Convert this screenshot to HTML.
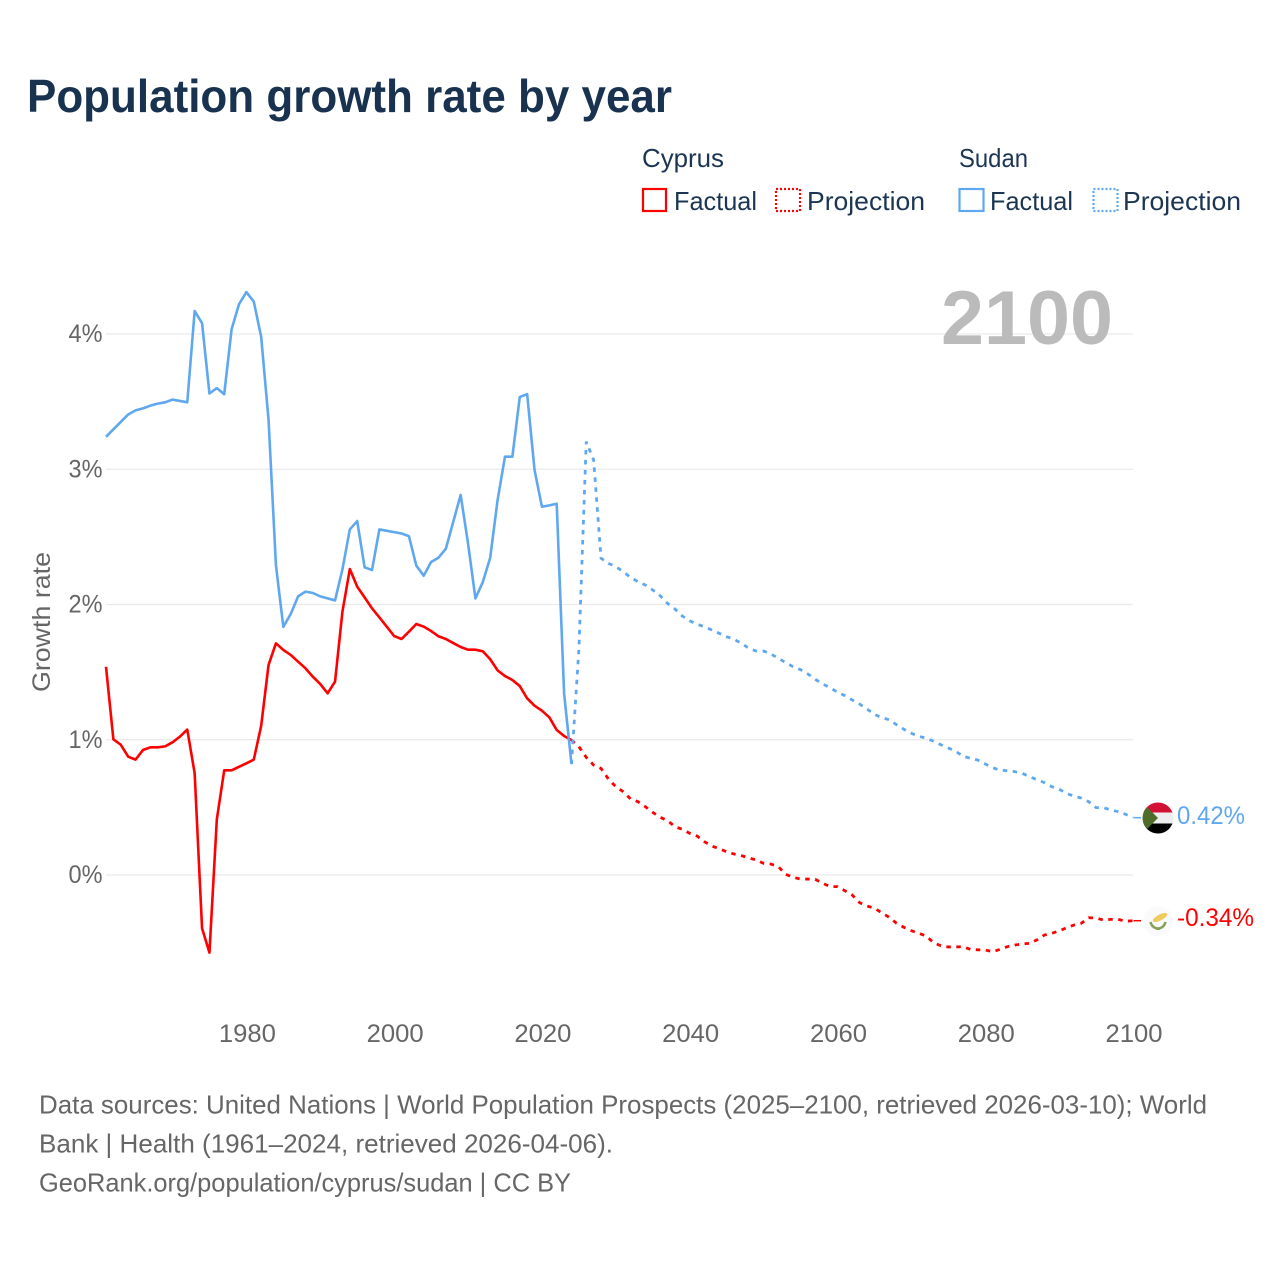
<!DOCTYPE html>
<html lang="en">
<head>
<meta charset="utf-8">
<title>Population growth rate by year</title>
<style>
html,body{margin:0;padding:0;background:#fff;}
svg{display:block;font-family:"Liberation Sans",Arial,sans-serif;}
</style>
</head>
<body>
<svg id="chart" xmlns="http://www.w3.org/2000/svg" width="1280" height="1280" viewBox="0 0 1280 1280">
  <rect width="1280" height="1280" fill="#ffffff"/>
  <text x="27" y="112" font-size="46" font-weight="700" fill="#18324f" textLength="645" lengthAdjust="spacingAndGlyphs">Population growth rate by year</text>

  <g font-size="26" fill="#1c3553">
    <text x="642" y="167" textLength="82" lengthAdjust="spacingAndGlyphs">Cyprus</text>
    <rect x="643" y="189" width="23" height="22" fill="none" stroke="#ff0000" stroke-width="2.2"/>
    <text x="674" y="210" textLength="83" lengthAdjust="spacingAndGlyphs">Factual</text>
    <rect x="776" y="189" width="24" height="22" fill="none" stroke="#ff0000" stroke-width="2.2" stroke-dasharray="2 2"/>
    <text x="807" y="210" textLength="118" lengthAdjust="spacingAndGlyphs">Projection</text>
    <text x="959" y="167" textLength="69" lengthAdjust="spacingAndGlyphs">Sudan</text>
    <rect x="959.5" y="189" width="24" height="22" fill="none" stroke="#5fa8f0" stroke-width="2.2"/>
    <text x="990" y="210" textLength="83" lengthAdjust="spacingAndGlyphs">Factual</text>
    <rect x="1093.5" y="189" width="24" height="22" fill="none" stroke="#5fa8f0" stroke-width="2.2" stroke-dasharray="2 2"/>
    <text x="1123" y="210" textLength="118" lengthAdjust="spacingAndGlyphs">Projection</text>
  </g>

  <g id="grid"></g>
  <text x="941" y="344" font-size="76" font-weight="700" fill="#bbbbbb" textLength="172" lengthAdjust="spacingAndGlyphs">2100</text>
  <g id="yticks" font-size="25" fill="#666666"></g>
  <g id="xticks" font-size="25" fill="#666666"></g>
  <text transform="translate(50,622) rotate(-90)" text-anchor="middle" font-size="25" fill="#666666" textLength="140" lengthAdjust="spacingAndGlyphs">Growth rate</text>
  <g id="series"></g>

  <defs>
    <clipPath id="flag-clip-sudan"><circle cx="1158" cy="818" r="15.5"/></clipPath>
  </defs>
  <g clip-path="url(#flag-clip-sudan)">
    <rect x="1142" y="802" width="32" height="10.5" fill="#d21034"/>
    <rect x="1142" y="812.5" width="32" height="11" fill="#eeeeee"/>
    <rect x="1142" y="823.5" width="32" height="11" fill="#000000"/>
    <polygon points="1142,802 1158,818 1142,834" fill="#4f6c2b"/>
  </g>
  <g>
    <circle cx="1158" cy="921" r="15" fill="#fafafa"/>
    <ellipse cx="1160" cy="917.5" rx="8" ry="3" transform="rotate(-28 1160 917.5)" fill="#f0cc60"/>
    <path d="M1150.5 922 Q1152 928 1158 928.5 Q1164 928 1165.5 922" fill="none" stroke="#84a05a" stroke-width="2.5"/>
    <path d="M1158 927 l-2 3 h4 z" fill="#84a05a"/>
  </g>
  <text id="label-sudan" x="1177" y="824" font-size="25" fill="#5fa8f0" textLength="68" lengthAdjust="spacingAndGlyphs"></text>
  <text id="label-cyprus" x="1177" y="926" font-size="25" fill="#ff0000" textLength="77" lengthAdjust="spacingAndGlyphs"></text>

  <g font-size="26" fill="#666666">
    <text x="39" y="1113.5" textLength="1168" lengthAdjust="spacingAndGlyphs">Data sources: United Nations | World Population Prospects (2025–2100, retrieved 2026-03-10); World</text>
    <text x="39" y="1152.5" textLength="574" lengthAdjust="spacingAndGlyphs">Bank | Health (1961–2024, retrieved 2026-04-06).</text>
    <text x="39" y="1191.5" textLength="532" lengthAdjust="spacingAndGlyphs">GeoRank.org/population/cyprus/sudan | CC BY</text>
  </g>
</svg>

<script>
const factualStartYear = 1961;
const projectionStartYear = 2024;
const cyprusFactual = [1.54,1.003,0.963,0.875,0.853,0.924,0.944,0.944,0.951,0.981,1.023,1.075,0.752,-0.394,-0.574,0.412,0.774,0.774,0.8,0.826,0.853,1.102,1.553,1.713,1.664,1.627,1.577,1.528,1.466,1.412,1.343,1.43,1.947,2.262,2.132,2.053,1.972,1.905,1.836,1.767,1.745,1.799,1.856,1.836,1.804,1.765,1.745,1.715,1.686,1.666,1.666,1.654,1.595,1.513,1.471,1.442,1.397,1.306,1.252,1.215,1.166,1.072,1.028,0.998];
const sudanFactual = [3.24,3.295,3.35,3.405,3.435,3.45,3.47,3.485,3.495,3.515,3.505,3.495,4.17,4.08,3.56,3.6,3.555,4.035,4.22,4.31,4.24,3.98,3.365,2.29,1.835,1.93,2.06,2.095,2.085,2.06,2.045,2.03,2.26,2.555,2.617,2.275,2.255,2.555,2.545,2.535,2.525,2.505,2.287,2.213,2.314,2.346,2.413,2.612,2.81,2.452,2.045,2.166,2.346,2.773,3.093,3.093,3.534,3.556,2.995,2.723,2.733,2.745,1.343,0.82];
const cyprusProjection = [0.998,0.949,0.87,0.813,0.788,0.71,0.653,0.616,0.562,0.542,0.505,0.463,0.427,0.402,0.357,0.338,0.308,0.288,0.246,0.214,0.194,0.172,0.155,0.143,0.126,0.111,0.086,0.081,0.061,0.005,-0.017,-0.03,-0.03,-0.032,-0.061,-0.086,-0.086,-0.116,-0.148,-0.205,-0.229,-0.246,-0.279,-0.313,-0.357,-0.387,-0.412,-0.431,-0.451,-0.5,-0.523,-0.532,-0.532,-0.53,-0.55,-0.553,-0.555,-0.567,-0.55,-0.53,-0.518,-0.51,-0.505,-0.48,-0.444,-0.431,-0.414,-0.39,-0.37,-0.357,-0.316,-0.318,-0.333,-0.328,-0.328,-0.342,-0.338];
const sudanProjection = [0.82,1.664,3.204,3.068,2.342,2.304,2.28,2.243,2.2,2.169,2.144,2.107,2.065,2.008,1.967,1.915,1.88,1.854,1.836,1.811,1.787,1.762,1.743,1.713,1.676,1.656,1.656,1.634,1.602,1.57,1.54,1.518,1.486,1.447,1.412,1.385,1.351,1.326,1.294,1.264,1.227,1.188,1.163,1.148,1.111,1.077,1.048,1.026,1.011,0.989,0.963,0.939,0.915,0.878,0.863,0.85,0.821,0.793,0.776,0.771,0.764,0.752,0.727,0.705,0.683,0.653,0.634,0.604,0.582,0.569,0.542,0.498,0.498,0.481,0.468,0.449,0.424];
const yTickValues = [0,1,2,3,4];
const yTickLabels = ["0%","1%","2%","3%","4%"];
const xTickValues = [1980,2000,2020,2040,2060,2080,2100];
const xTickLabels = ["1980","2000","2020","2040","2060","2080","2100"];
const sudanEndLabel = "0.42%";
const cyprusEndLabel = "-0.34%";

const NS = "http://www.w3.org/2000/svg";
function xScale(year){ return 106 + (year - 1961) * (1027 / 139); }
function yScale(value){ return 875 - value * 135.25; }

function make(tag, parent, attrs){
  const el = document.createElementNS(NS, tag);
  for (const k in attrs) el.setAttribute(k, attrs[k]);
  parent.appendChild(el);
  return el;
}
function pathFor(values, startYear){
  return values.map(function(v, i){
    return (i ? "L" : "M") + xScale(startYear + i).toFixed(2) + " " + yScale(v).toFixed(2);
  }).join(" ");
}

const grid = document.getElementById("grid");
const yticks = document.getElementById("yticks");
const xticks = document.getElementById("xticks");
const series = document.getElementById("series");

yTickValues.forEach(function(v, i){
  const line = make("line", grid, {x1:106, x2:1133, y1:yScale(v), y2:yScale(v), stroke:"#eaeaea", "stroke-width":1.2});
  
  
  const t = make("text", yticks, {x:102.5, y:yScale(v) + 8, "text-anchor":"end", textLength:34, lengthAdjust:"spacingAndGlyphs"});
  
  
  t.textContent = yTickLabels[i];
});
xTickValues.forEach(function(v, i){
  const t = make("text", xticks, {x:xScale(v) + 1, y:1042, "text-anchor":"middle", textLength:57, lengthAdjust:"spacingAndGlyphs"});
  
  
  t.textContent = xTickLabels[i];
});

const RED = "#ff0000", BLUE = "#5fa8f0";
const cyF = make("path", series, {d:pathFor(cyprusFactual, factualStartYear), fill:"none", stroke:RED, "stroke-width":2.6, "stroke-linejoin":"round"});


const suF = make("path", series, {d:pathFor(sudanFactual, factualStartYear), fill:"none", stroke:BLUE, "stroke-width":2.6, "stroke-linejoin":"round"});


const cyP = make("path", series, {d:pathFor(cyprusProjection, projectionStartYear), fill:"none", stroke:RED, "stroke-width":2.8, "stroke-dasharray":"4.5 5.5"});


const suP = make("path", series, {d:pathFor(sudanProjection, projectionStartYear), fill:"none", stroke:BLUE, "stroke-width":2.8, "stroke-dasharray":"4.5 5.5"});



const cyLast = yScale(cyprusProjection[cyprusProjection.length - 1]);
const suLast = yScale(sudanProjection[sudanProjection.length - 1]);
const cyConn = make("line", series, {x1:1133.5, x2:1141, y1:cyLast, y2:cyLast, stroke:RED, "stroke-width":1.5});


const suConn = make("line", series, {x1:1133.5, x2:1141, y1:suLast, y2:suLast, stroke:BLUE, "stroke-width":1.5});



document.getElementById("label-sudan").textContent = sudanEndLabel;
document.getElementById("label-cyprus").textContent = cyprusEndLabel;
</script>
</body>
</html>
